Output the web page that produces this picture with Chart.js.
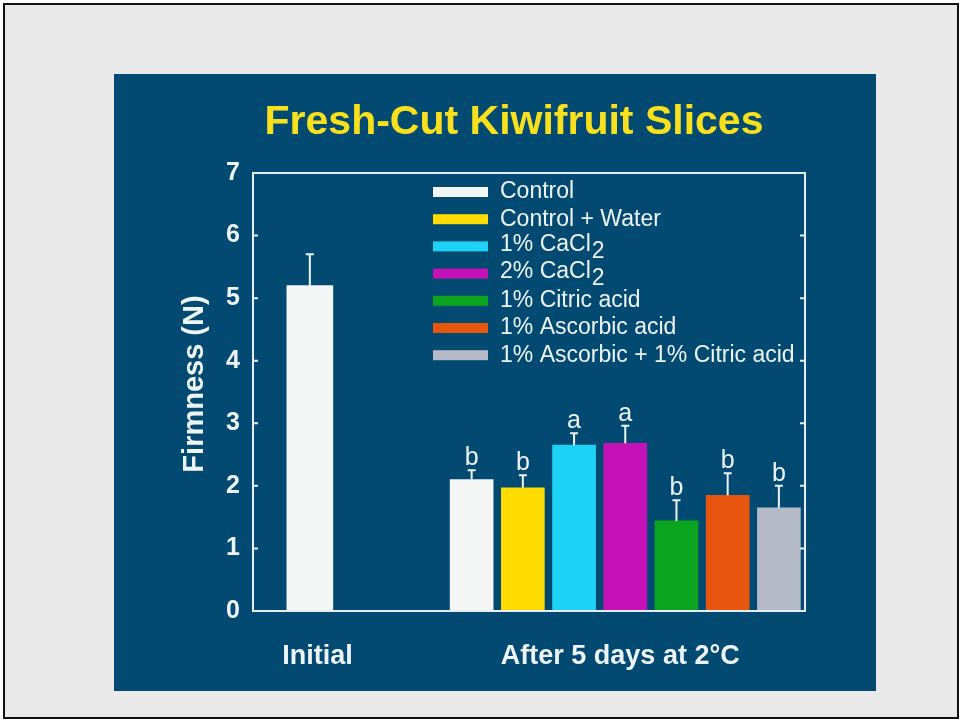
<!DOCTYPE html>
<html>
<head>
<meta charset="utf-8">
<title>Fresh-Cut Kiwifruit Slices</title>
<script src="https://cdn.jsdelivr.net/npm/chart.js@4.4.0/dist/chart.umd.min.js"></script>
<style>
  html, body { margin: 0; padding: 0; background: #fff; }
  #frame {
    position: absolute; left: 3px; top: 3px;
    width: 952px; height: 712px;
    border: 2px solid #111; background: #e9e9e9;
  }
  #slide {
    position: absolute; left: 109px; top: 69px;
    width: 762px; height: 617px; background: #024a71;
  }
  #chart { display: block; }
</style>
</head>
<body>
<div id="frame">
  <div id="slide">
    <canvas id="chart" width="762" height="617"></canvas>
  </div>
</div>
<script>
// data
const chartTitle = 'Fresh-Cut Kiwifruit Slices';
const yTitle = 'Firmness (N)';
const groups = ['Initial', 'After 5 days at 2°C'];
const yTicks = [0, 1, 2, 3, 4, 5, 6, 7];

const initialValue = 5.2;
const initialError = 0.5;

const treatments = [
  'Control',
  'Control + Water',
  '1% CaCl2',
  '2% CaCl2',
  '1% Citric acid',
  '1% Ascorbic acid',
  '1% Ascorbic + 1% Citric acid'
];
const firmness = [2.1, 1.97, 2.65, 2.68, 1.44, 1.85, 1.65];
const errors = [0.15, 0.2, 0.19, 0.28, 0.33, 0.35, 0.35];
const letters = ['b', 'b', 'a', 'a', 'b', 'b', 'b'];
const colors = ['#f4f6f6', '#ffdc00', '#1ed2f6', '#c412b6', '#0aa41e', '#e6560e', '#b4bac6'];

// layout (x in bar-slot units, Initial sits at 0)
const TREAT_START = 3.16;
const FONT = '"Liberation Sans", Arial, Helvetica, sans-serif';
const INK = '#eef3f6';
const AXIS = '#e6eef3';

const slidePlugin = {
  id: 'slidePlugin',
  afterDatasetsDraw(chart) {
    const ctx = chart.ctx;
    const y = chart.scales.y;
    ctx.save();
    ctx.strokeStyle = INK;
    ctx.lineWidth = 2;
    ctx.fillStyle = INK;
    ctx.textAlign = 'center';
    ctx.textBaseline = 'alphabetic';
    ctx.font = '25px ' + FONT;

    chart.data.datasets.forEach((ds, di) => {
      const meta = chart.getDatasetMeta(di);
      meta.data.forEach((bar, i) => {
        const top = y.getPixelForValue(ds.data[i].y + ds.errs[i]);
        ctx.beginPath();
        ctx.moveTo(bar.x, bar.y);
        ctx.lineTo(bar.x, top);
        ctx.moveTo(bar.x - 4, top);
        ctx.lineTo(bar.x + 4, top);
        ctx.stroke();
        if (ds.letters) {
          ctx.fillText(ds.letters[i], bar.x, top - 5);
        }
      });
    });
    ctx.restore();
  },
  afterDraw(chart) {
    const ctx = chart.ctx;
    const area = chart.chartArea;
    const x = chart.scales.x;
    const y = chart.scales.y;
    ctx.save();

    // frame with inward ticks
    ctx.strokeStyle = AXIS;
    ctx.lineWidth = 2;
    ctx.strokeRect(area.left, area.top, area.right - area.left, area.bottom - area.top);
    ctx.beginPath();
    yTicks.slice(1, -1).forEach(v => {
      const py = y.getPixelForValue(v);
      ctx.moveTo(area.left, py);
      ctx.lineTo(area.left + 5, py);
      ctx.moveTo(area.right, py);
      ctx.lineTo(area.right - 5, py);
    });
    ctx.stroke();

    // title
    ctx.fillStyle = '#f8e11c';
    ctx.font = 'bold 41px ' + FONT;
    ctx.textAlign = 'center';
    ctx.textBaseline = 'middle';
    ctx.fillText(chartTitle, 400, 49);

    // y title
    ctx.fillStyle = INK;
    ctx.font = 'bold 29px ' + FONT;
    ctx.save();
    ctx.translate(81, 310);
    ctx.rotate(-Math.PI / 2);
    ctx.fillText(yTitle, 0, 0);
    ctx.restore();

    // group labels under the axis
    ctx.font = 'bold 27px ' + FONT;
    ctx.fillText(groups[0], x.getPixelForValue(0.15), 583);
    const mid = (x.getPixelForValue(TREAT_START) + x.getPixelForValue(TREAT_START + treatments.length - 1)) / 2;
    ctx.fillText(groups[1], mid - 5, 583);

    // legend
    ctx.font = '23px ' + FONT;
    ctx.textAlign = 'left';
    treatments.forEach((t, i) => {
      const ry = 118 + i * 27.2;
      ctx.fillStyle = colors[i];
      ctx.fillRect(319, ry - 5, 55, 10);
      ctx.fillStyle = INK;
      const m = t.match(/^(.*CaCl)2$/);
      if (m) {
        ctx.fillText(m[1], 386, ry - 2);
        const w = ctx.measureText(m[1]).width;
        ctx.fillText('2', 386 + w + 1, ry + 5);
      } else {
        ctx.fillText(t, 386, ry);
      }
    });
    ctx.restore();
  }
};

new Chart(document.getElementById('chart'), {
  type: 'bar',
  data: {
    datasets: [
      {
        label: groups[0],
        data: [{ x: 0, y: initialValue }],
        errs: [initialError],
        backgroundColor: colors[0],
        barThickness: 46,
        grouped: false
      },
      {
        label: groups[1],
        data: firmness.map((v, i) => ({ x: TREAT_START + i, y: v })),
        errs: errors,
        letters: letters,
        backgroundColor: colors,
        barThickness: 43,
        grouped: false
      }
    ]
  },
  options: {
    responsive: false,
    animation: false,
    layout: { padding: { top: 99, right: 71, left: 0, bottom: 0 } },
    plugins: {
      legend: { display: false },
      tooltip: { enabled: false },
      title: { display: false }
    },
    scales: {
      x: {
        type: 'linear',
        offset: false,
        min: -1.11,
        max: 9.67,
        ticks: { display: false },
        grid: { display: false, offset: false },
        border: { display: false },
        afterFit(scale) { scale.height = 80; }
      },
      y: {
        min: 0,
        max: 7,
        ticks: {
          stepSize: 1,
          padding: 13,
          color: INK,
          font: { family: FONT, size: 25, weight: 'bold' }
        },
        grid: { display: false, drawTicks: false },
        border: { display: false },
        afterFit(scale) { scale.width = 139; }
      }
    }
  },
  plugins: [slidePlugin]
});
</script>
</body>
</html>
